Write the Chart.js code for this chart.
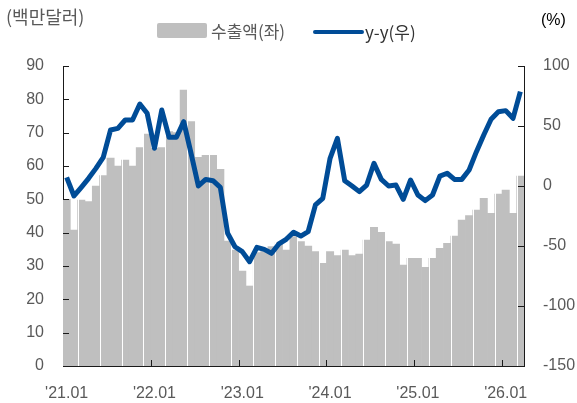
<!DOCTYPE html>
<html>
<head>
<meta charset="utf-8">
<script src="https://cdn.jsdelivr.net/npm/chart.js@4"></script>
<style>
  body{margin:0;background:#fff;}
  #wrap{width:577px;height:403px;position:relative;}
</style>
</head>
<body>
<div id="wrap"><canvas id="myChart" width="577" height="403"></canvas></div>
<script>
  const months = [
    "'21.01","'21.02","'21.03","'21.04","'21.05","'21.06","'21.07","'21.08","'21.09","'21.10","'21.11","'21.12",
    "'22.01","'22.02","'22.03","'22.04","'22.05","'22.06","'22.07","'22.08","'22.09","'22.10","'22.11","'22.12",
    "'23.01","'23.02","'23.03","'23.04","'23.05","'23.06","'23.07","'23.08","'23.09","'23.10","'23.11","'23.12",
    "'24.01","'24.02","'24.03","'24.04","'24.05","'24.06","'24.07","'24.08","'24.09","'24.10","'24.11","'24.12",
    "'25.01","'25.02","'25.03","'25.04","'25.05","'25.06","'25.07","'25.08","'25.09","'25.10","'25.11","'25.12",
    "'26.01","'26.02","'26.03"
  ];

  // 수출액 (백만달러)
  const exportsAmt = [
    50.0, 40.8, 49.8, 49.3, 54.0, 57.1, 62.4, 60.0, 61.8, 60.0, 65.5, 69.6,
    65.3, 65.5, 70.3, 70.0, 82.8, 73.3, 62.6, 63.2, 63.2, 59.0, 37.5, 34.8,
    28.5, 24.0, 34.0, 34.3, 35.8, 37.0, 34.8, 38.8, 37.3, 36.0, 34.3, 30.8,
    34.3, 33.1, 34.8, 33.1, 33.6, 37.8, 41.6, 40.1, 37.3, 36.6, 30.3, 32.3,
    32.3, 29.6, 32.3, 35.3, 36.8, 39.0, 43.8, 45.1, 46.8, 50.3, 45.8, 51.6,
    52.8, 45.8, 57.0
  ];

  // y-y (%)
  const yoy = [
    7.2, -8.3, -1.1, 6.4, 14.7, 23.9, 46.7, 48.0, 55.0, 55.0, 68.3, 60.6,
    31.4, 63.3, 40.6, 40.6, 53.6, 27.2, 0.0, 5.5, 4.4, -1.1, -39.4, -50.6,
    -54.7, -63.1, -51.1, -52.8, -56.1, -48.3, -44.4, -38.5, -41.7, -38.1, -15.8, -10.3,
    23.1, 39.7, 4.4, 0.0, -4.7, 0.8, 18.9, 5.5, 0.0, 0.8, -11.1, 5.0,
    -7.5, -12.2, -7.5, 8.3, 10.6, 5.5, 5.5, 13.3, 28.6, 42.5, 55.6, 61.9,
    62.8, 56.4, 78.6
  ];

  const leftTicks = [0, 10, 20, 30, 40, 50, 60, 70, 80, 90];
  const rightTicks = [-150, -100, -50, 0, 50, 100];

  const FONT = "'Liberation Sans', Arial, 'Noto Sans CJK KR', sans-serif";
  const KFONT = "'Noto Sans CJK KR', 'Liberation Sans', sans-serif";
  const BAR_COLOR = '#BFBFBF';
  const LINE_COLOR = '#004C97';
  const TEXT_COLOR = '#595959';

  const extras = {
    id: 'extras',
    afterDatasetDraw(chart, args) {
      // thin white seams between some bars, like the source image
      if (args.index !== 0) return;
      const {ctx, chartArea: {top, bottom}} = chart;
      const xs = chart.scales.x;
      ctx.save();
      ctx.strokeStyle = '#ffffff';
      ctx.lineWidth = 1;
      for (let i = 2; i < months.length; i += 3) {
        const x = Math.round((xs.getPixelForValue(i - 1) + xs.getPixelForValue(i)) / 2) + 0.5;
        ctx.beginPath();
        ctx.moveTo(x, top);
        ctx.lineTo(x, bottom);
        ctx.stroke();
      }
      ctx.restore();
    },
    afterDraw(chart) {
      const {ctx, chartArea: {left, right, top, bottom}} = chart;
      const xs = chart.scales.x, yl = chart.scales.y, yr = chart.scales.y1;
      ctx.save();
      ctx.strokeStyle = '#1a1a1a';
      ctx.lineWidth = 1;
      // inward tick marks
      leftTicks.forEach(v => {
        const y = Math.round(yl.getPixelForValue(v)) + 0.5;
        ctx.beginPath(); ctx.moveTo(left, y); ctx.lineTo(left + 6, y); ctx.stroke();
      });
      rightTicks.forEach(v => {
        const y = Math.round(yr.getPixelForValue(v)) + 0.5;
        ctx.beginPath(); ctx.moveTo(right, y); ctx.lineTo(right - 6, y); ctx.stroke();
      });
      for (let i = 12; i < months.length; i += 12) {
        const x = Math.round((xs.getPixelForValue(i - 1) + xs.getPixelForValue(i)) / 2) + 0.5;
        ctx.beginPath(); ctx.moveTo(x, bottom); ctx.lineTo(x, bottom - 6); ctx.stroke();
      }

      // unit labels
      ctx.textBaseline = 'middle';
      ctx.fillStyle = TEXT_COLOR;
      ctx.font = '18px ' + KFONT;
      ctx.textAlign = 'left';
      ctx.fillText('(백만달러)', 6, 17);
      ctx.fillStyle = '#000';
      ctx.font = '16px ' + FONT;
      ctx.fillText('(%)', 541, 21);

      // legend
      ctx.fillStyle = BAR_COLOR;
      ctx.beginPath();
      ctx.roundRect(157, 23, 50, 15, 2);
      ctx.fill();
      ctx.fillStyle = TEXT_COLOR;
      ctx.font = '17px ' + KFONT;
      ctx.fillText(chart.data.datasets[0].label, 211, 32);
      ctx.strokeStyle = LINE_COLOR;
      ctx.lineWidth = 4;
      ctx.lineCap = 'round';
      ctx.beginPath(); ctx.moveTo(315, 32); ctx.lineTo(362, 32); ctx.stroke();
      ctx.fillStyle = '#333';
      ctx.fillText(chart.data.datasets[1].label, 365, 33);
      ctx.restore();
    }
  };

  const data = {
    labels: months,
    datasets: [
      {
        type: 'bar',
        label: '수출액(좌)',
        data: exportsAmt,
        backgroundColor: BAR_COLOR,
        barPercentage: 1.0,
        categoryPercentage: 1.0,
        yAxisID: 'y',
        order: 2
      },
      {
        type: 'line',
        label: 'y-y(우)',
        data: yoy,
        borderColor: LINE_COLOR,
        borderWidth: 5,
        pointRadius: 0,
        tension: 0,
        borderJoinStyle: 'round',
        yAxisID: 'y1',
        order: 1
      }
    ]
  };

  const config = {
    type: 'bar',
    data: data,
    options: {
      responsive: false,
      animation: false,
      layout: {padding: {top: 66, left: 0, right: 0, bottom: 0}},
      plugins: {
        legend: {display: false},
        tooltip: {enabled: false}
      },
      scales: {
        x: {
          grid: {display: false, drawTicks: false},
          border: {display: true, color: '#1a1a1a', width: 1},
          ticks: {
            autoSkip: false,
            maxRotation: 0,
            padding: 18,
            color: TEXT_COLOR,
            font: {family: FONT, size: 16},
            callback: function(val, idx) {
              return idx % 12 === 0 ? this.getLabelForValue(val) : null;
            }
          },
          afterFit(scale) { scale.height = 37; }
        },
        y: {
          position: 'left',
          min: 0, max: 90,
          grid: {display: false, drawTicks: false},
          border: {display: true, color: '#1a1a1a', width: 1},
          ticks: {stepSize: 10, padding: 19, color: TEXT_COLOR, font: {family: FONT, size: 16}},
          afterFit(scale) { scale.width = 63; }
        },
        y1: {
          position: 'right',
          min: -150, max: 100,
          grid: {display: false, drawTicks: false},
          border: {display: true, color: '#1a1a1a', width: 1},
          ticks: {stepSize: 50, padding: 19, color: TEXT_COLOR, font: {family: FONT, size: 16}},
          afterFit(scale) { scale.width = 53; }
        }
      }
    },
    plugins: [extras]
  };

  const chart = new Chart(document.getElementById('myChart'), config);
</script>
</body>
</html>
